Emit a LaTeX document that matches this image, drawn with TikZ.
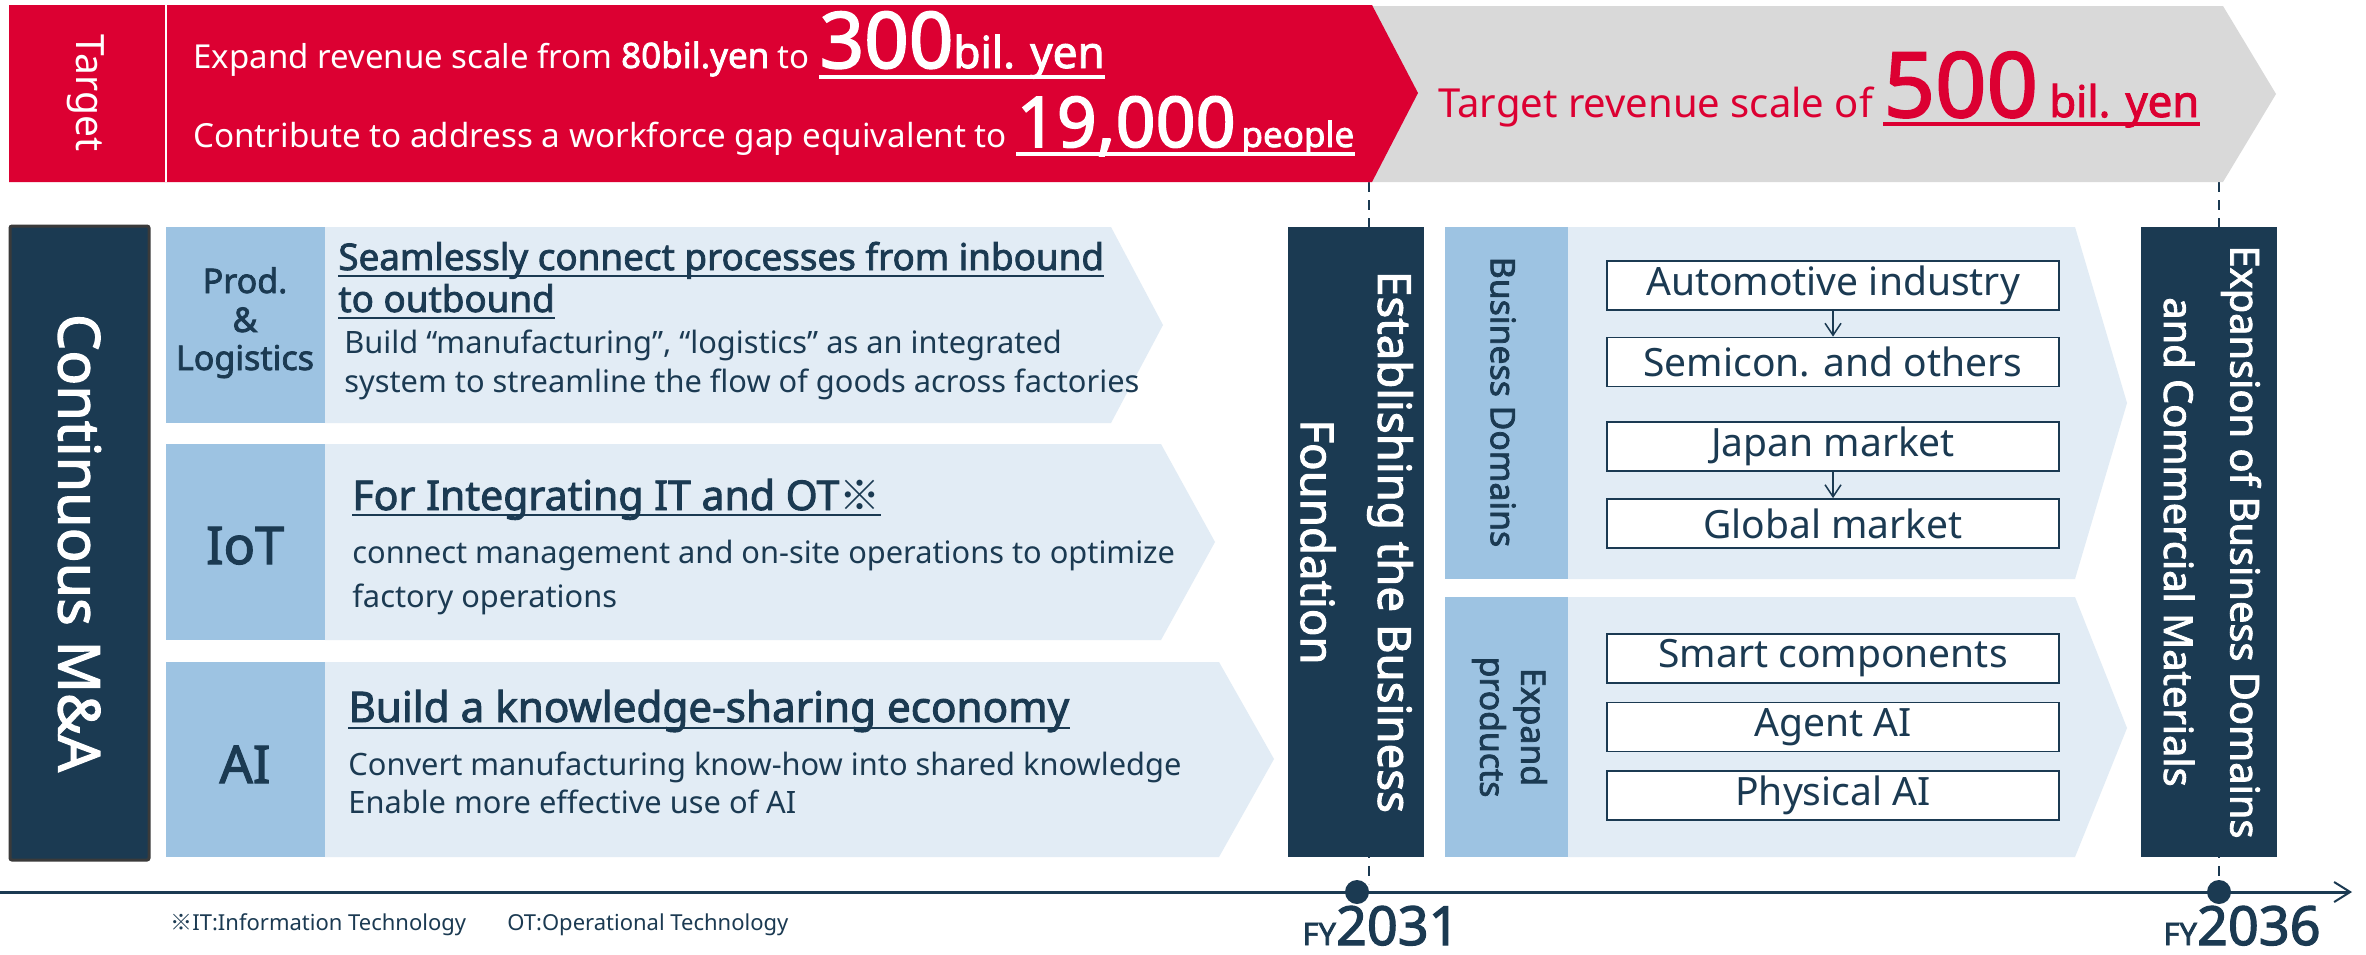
\documentclass[tikz,border=0pt]{standalone}
\usepackage{fontspec}
\setmainfont{Noto Sans}[BoldFont={Noto Sans}, BoldFeatures={FakeBold=2.2}]
\newfontfamily\cjk{Noto Sans CJK JP}
\usetikzlibrary{arrows.meta,calc}
\definecolor{navy}{HTML}{1B3A52}
\definecolor{kred}{HTML}{DC0032}
\definecolor{kgray}{HTML}{D9D9D9}
\definecolor{lblue}{HTML}{9DC3E2}
\definecolor{pale}{HTML}{E2ECF5}
\definecolor{bord}{HTML}{3A3A3A}
\newcommand\fsz[1]{\fontsize{#1}{#1}\selectfont}
\begin{document}
\begin{tikzpicture}[x=0.5pt,y=-0.5pt,
  txt/.style={inner sep=0pt, anchor=base west, text=navy},
  ctxt/.style={inner sep=0pt, anchor=base, text=navy},
  vtxt/.style={inner sep=0pt, rotate=-90, font=\bfseries},
  navybox/.style={fill=navy, inner sep=0pt, minimum width=68pt, minimum height=315pt},
  wbox/.style={draw=navy, line width=0.9pt, fill=white, inner sep=0pt, minimum width=226pt, minimum height=24.5pt, text=navy, font=\fsz{19.5}},
  uline/.style={line width=1pt, navy},
  guide/.style={navy, line width=1pt, dash pattern=on 5pt off 4pt},
  dot/.style={circle, fill=navy, inner sep=0pt, minimum size=12pt},
  darr/.style={navy, line width=0.75pt, -{Straight Barb[length=6pt,width=8pt]}}
]
\useasboundingbox (0,0) rectangle (2366,954);
\fill[white] (0,0) rectangle (2366,954);

% guide lines (behind)
\coordinate (g1t) at (1369,182); \coordinate (g1b) at (1369,884);
\coordinate (g2t) at (2219,182); \coordinate (g2b) at (2219,884);
\draw[guide] (g1t) -- (g1b);
\draw[guide] (g2t) -- (g2b);

% banners
\fill[kgray] (1360,6) -- (2223,6) -- (2276,94) -- (2223,182) -- (1360,182) -- cycle;
\fill[kred] (9,5) -- (1372,5) -- (1418,93) -- (1372,182) -- (9,182) -- cycle;
\draw[white, line width=1pt] (166,5) -- (166,182);

\node[inner sep=0pt, rotate=-90, text=white] (tgt) at (86,93) {\fsz{19.5}Target};
\node[txt, text=white] (l1) at (193,68) {\fsz{16.5}Expand revenue scale from {\fsz{17.5}\bfseries 80bil.yen} to};
\node[txt, text=white, font=\bfseries] (l1u) at ([xshift=4.5pt]l1.base east) {\fsz{39}300\fsz{22}bil. yen};
\draw[white, line width=2pt] ([yshift=-4.5pt]l1u.base west) -- ([yshift=-4.5pt]l1u.base east);
\node[txt, text=white] (l2) at (193,147) {\fsz{16.6}Contribute to address a workforce gap equivalent to};
\node[txt, text=white, font=\bfseries] (l2u) at ([xshift=4.5pt]l2.base east) {\fsz{35}19,000\fsz{17.5}\,people};
\draw[white, line width=2pt] ([yshift=-3.5pt]l2u.base west) -- ([yshift=-3.5pt]l2u.base east);

\node[txt, text=kred] (g1) at (1438,117) {\fsz{20}Target revenue scale of};
\node[txt, text=kred, font=\bfseries] (g1u) at ([xshift=5pt]g1.base east) {\fsz{45}500\fsz{21.8}\ bil. yen};
\draw[kred, line width=2pt] ([yshift=-3.5pt]g1u.base west) -- ([yshift=-3.5pt]g1u.base east);

% Continuous M&A
\node[draw=bord, line width=1.5pt, fill=navy, rounded corners=1pt, minimum width=69.5pt, minimum height=317pt, inner sep=0pt] (cma) at (79.5,543) {};
\node[vtxt, text=white] (cmat) at (cma.center) {\fsz{28.8}Continuous M\&A};

% Row 1
\fill[lblue] (166,227) rectangle (325,423);
\fill[pale] (325,227) -- (1111,227) -- (1163,325) -- (1111,423) -- (325,423) -- cycle;
\node[ctxt, font=\bfseries] (r1a) at (245,293) {\fsz{17}Prod.};
\node[ctxt, font=\bfseries] (r1b) at (245,332) {\fsz{17}\&};
\node[ctxt, font=\bfseries] (r1c) at (245,370) {\fsz{17}Logistics};
\node[txt, font=\bfseries] (h1a) at (338,270) {\fsz{18.4}Seamlessly connect processes from inbound};
\node[txt, font=\bfseries] (h1b) at (338,312) {\fsz{18.4}to outbound};
\draw[uline] ([yshift=-3pt]h1a.base west) -- ([yshift=-3pt]h1a.base east);
\draw[uline] ([yshift=-3pt]h1b.base west) -- ([yshift=-3pt]h1b.base east);
\node[txt] (b1a) at (344,353) {\fsz{15.4}Build “manufacturing”, “logistics” as an integrated};
\node[txt] (b1b) at (344,392) {\fsz{15.4}system to streamline the flow of goods across factories};

% Row 2
\fill[lblue] (166,444) rectangle (325,640);
\fill[pale] (325,444) -- (1161,444) -- (1215,542) -- (1161,640) -- (325,640) -- cycle;
\node[ctxt, font=\bfseries] (r2) at (245,564) {\fsz{26}IoT};
\node[txt, font=\bfseries] (h2) at (352,510) {\fsz{20.5}For Integrating IT and OT{\cjk\mdseries ※}};
\draw[uline] ([yshift=-2.5pt]h2.base west) -- ([yshift=-2.5pt]h2.base east);
\node[txt] (b2a) at (352,563) {\fsz{15.4}connect management and on-site operations to optimize};
\node[txt] (b2b) at (352,607) {\fsz{15.4}factory operations};

% Row 3
\fill[lblue] (166,662) rectangle (325,857);
\fill[pale] (325,662) -- (1219,662) -- (1274,759) -- (1219,857) -- (325,857) -- cycle;
\node[ctxt, font=\bfseries] (r3) at (245,783) {\fsz{26}AI};
\node[txt, font=\bfseries] (h3) at (348,722) {\fsz{21.1}Build a knowledge-sharing economy};
\draw[uline] ([yshift=-3pt]h3.base west) -- ([yshift=-3pt]h3.base east);
\node[txt] (b3a) at (348,775) {\fsz{15.4}Convert manufacturing know-how into shared knowledge};
\node[txt] (b3b) at (348,813) {\fsz{15.4}Enable more effective use of AI};

% Establishing box
\node[navybox] (est) at (1356,542) {};
\node[vtxt, text=white] (esta) at (1390,542) {\fsz{22.8}Establishing the Business};
\node[vtxt, text=white] (estb) at (1318,542) {\fsz{22.8}Foundation};

% Expansion box
\node[navybox] (exb) at (2209,542) {};
\node[vtxt, text=white] (exba) at (2241,542) {\fsz{19.9}Expansion of Business Domains};
\node[vtxt, text=white] (exbb) at (2179,542) {\fsz{19.9}and Commercial Materials};

% Business Domains panel
\fill[lblue] (1445,227) rectangle (1568,579);
\fill[pale] (1568,227) -- (2075,227) -- (2127,403) -- (2075,579) -- (1568,579) -- cycle;
\node[vtxt, text=navy] (bdl) at (1503,402) {\fsz{16.9}Business Domains};
\node[wbox] (bx1) at (1833,285.5) {Automotive industry};
\node[wbox] (bx2) at (1833,362) {Semicon. and others};
\node[wbox] (bx3) at (1833,446.5) {Japan market};
\node[wbox] (bx4) at (1833,523.5) {Global market};
\draw[darr] (bx1.south) -- (bx2.north);
\draw[darr] (bx3.south) -- (bx4.north);

% Expand products panel
\fill[lblue] (1445,597) rectangle (1568,857);
\fill[pale] (1568,597) -- (2075,597) -- (2127,728) -- (2075,857) -- (1568,857) -- cycle;
\node[vtxt, text=navy] (epa) at (1530,727) {\fsz{16.9}Expand};
\node[vtxt, text=navy] (epb) at (1489,727) {\fsz{16.9}products};
\node[wbox] (bx5) at (1833,658.5) {Smart components};
\node[wbox] (bx6) at (1833,727) {Agent AI};
\node[wbox] (bx7) at (1833,795.5) {Physical AI};

% timeline
\coordinate (tl0) at (0,892); \coordinate (tl1) at (2352,892);
\draw[navy, line width=1.5pt, -{Straight Barb[length=8pt,width=10pt,line width=1pt]}] (tl0) -- (tl1);
\node[dot] (d1) at (1357,892) {};
\node[dot] (d2) at (2219,892) {};
\node[txt, font=\bfseries, text depth=0pt] (fy1) at (1302,945) {\fsz{15.5}FY\fsz{27}2031};
\node[txt, font=\bfseries, text depth=0pt] (fy2) at (2163,945) {\fsz{15.5}FY\fsz{27}2036};

% footnote
\node[txt] (fn1) at (170,930) {\fsz{11}{\cjk ※}IT:Information Technology};
\node[txt] (fn2) at (507,930) {\fsz{11}OT:Operational Technology};
\end{tikzpicture}
\end{document}
